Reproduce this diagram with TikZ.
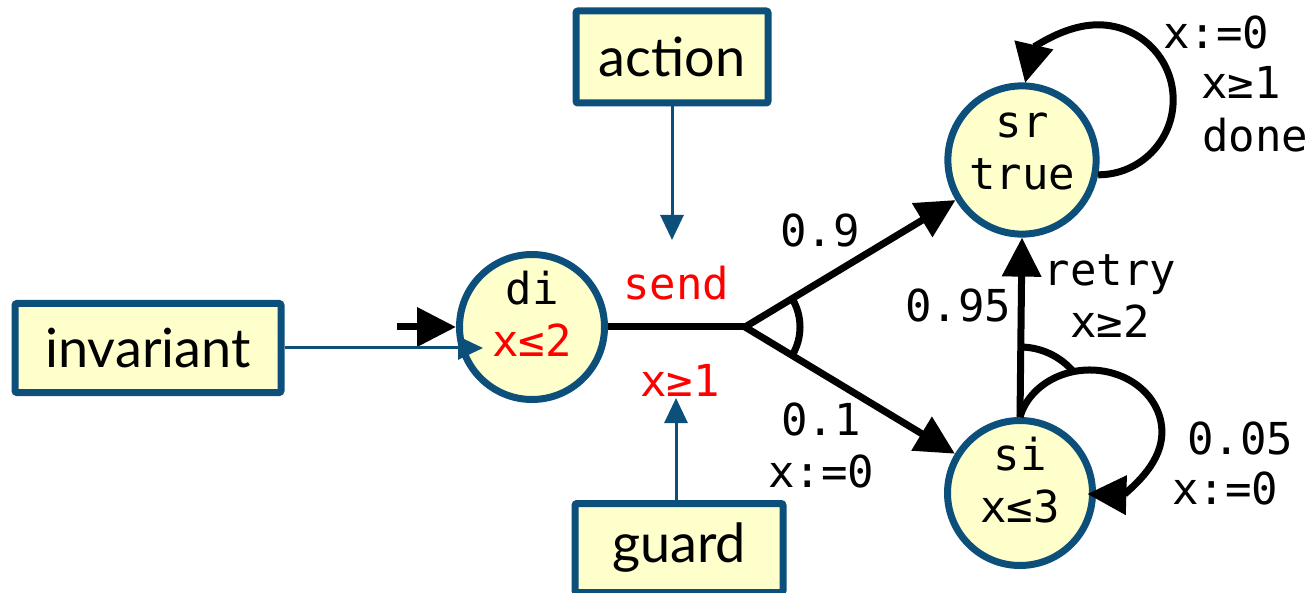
\documentclass[tikz,border=0pt]{standalone}
\usepackage{fontspec}
\setmainfont{Lato}
\setmonofont{DejaVu Sans Mono}
\usetikzlibrary{arrows.meta}
\definecolor{ublue}{RGB}{11,79,122}
\definecolor{pale}{RGB}{255,255,204}
\definecolor{gred}{RGB}{255,0,0}
\newcommand{\lblfont}{\ttfamily\fontsize{44}{52}\selectfont}
\newcommand{\calloutfont}{\fontsize{54}{62}\selectfont}
% two stacked lines, set a little above the middle of the location circle
\newcommand{\stackedpair}[2]{\raisebox{7pt}[\height][\depth]{\begin{tabular}{@{}c@{}}#1\\#2\end{tabular}}}
\begin{document}
\begin{tikzpicture}[x=1pt,y=1pt,
  state/.style={circle, draw=ublue, line width=7pt, fill=pale, minimum size=145pt,
    inner sep=0pt, font=\lblfont},
  callout/.style={draw=ublue, line width=7pt, fill=pale, rounded corners=2pt,
    font=\calloutfont, inner sep=0pt},
  edge/.style={line width=7pt, draw=black},
  arr/.style={-{Triangle[length=39pt,width=38pt]}},
  pointer/.style={draw=ublue, line width=3pt, -{Triangle[length=25pt,width=23pt]}},
  lbl/.style={font=\lblfont, align=center, inner sep=0pt},
  red/.style={text=gred}]
\useasboundingbox (0,0) rectangle (1313,592);

% locations
\node[state] (di) at (532,265) {\stackedpair{di}{\textcolor{gred}{x≤2}}};
\node[state] (sr) at (1022,432) {\stackedpair{sr}{true}};
\node[state] (si) at (1020,99) {\stackedpair{si}{x≤3}};
\coordinate (j) at (745,265);
\coordinate (init) at (397,265);

% annotation boxes
\node[callout, minimum width=266pt, minimum height=89pt] (inv) at (148,244) {invariant};
\node[callout, minimum width=192pt, minimum height=92pt] (act) at (672,535) {action};
\node[callout, minimum width=208pt, minimum height=89pt] (grd) at (679,44) {guard};
\coordinate (invtip) at (483,244);
\coordinate (acttip) at (672,352);
\coordinate (grdtip) at (676,194);

% initial edge and the probabilistic send edge
\draw[edge,arr] (init) -- (di.west);
\draw[edge] (di) -- (j);
\draw[edge,arr] (j) -- (sr);
\draw[edge,arr] (j) -- (si);
\draw[edge] (j) ++(-31:55) arc[start angle=-31, end angle=31, radius=55];

% retry edge from si
\draw[edge,arr] (si.north) -- (sr.south);
\draw[edge,arr] (si.north) arc[start angle=166, end angle=-92, x radius=72, y radius=62];
\draw[edge] (si.north) ++(90:70) arc[start angle=90, end angle=40, radius=70];

% done self-loop on sr
\draw[edge,arr] (sr.-11) arc[start angle=-90, end angle=167, radius=75];

% pointers from the boxes
\draw[pointer] (inv.east |- invtip) -- (invtip);
\draw[pointer] (act.south) -- (acttip);
\draw[pointer] (grd.north -| grdtip) -- (grdtip);

% edge labels
\node[lbl, red] (send) at (676,309) {send};
\node[lbl, red] (g1) at (680,212) {x≥1};
\node[lbl] (p9) at (820,362) {0.9};
\node[lbl] (p1) at (821,147) {0.1\\x:=0};
\node[lbl] (p95) at (958,287) {0.95};
\node[lbl] (rt) at (1110,296) {retry\\x≥2};
\node[lbl] (p05) at (1240,154) {0.05};
\node[lbl] (r05) at (1225,104) {x:=0};
\node[lbl] (d1) at (1216,560) {x:=0};
\node[lbl] (d2) at (1241,510) {x≥1};
\node[lbl] (d3) at (1255,457) {done};
\end{tikzpicture}
\end{document}
